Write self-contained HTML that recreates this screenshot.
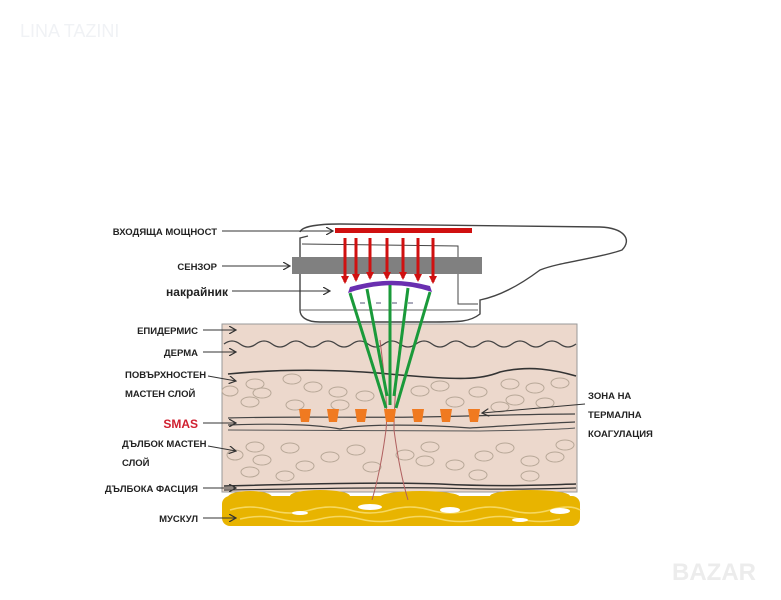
<!DOCTYPE html>
<html><head><meta charset="utf-8"><style>
html,body{margin:0;padding:0;background:#fff}
svg{display:block}
text{font-family:"Liberation Sans",sans-serif;font-weight:bold;fill:#222}
</style></head><body>
<svg width="781" height="600" viewBox="0 0 781 600" xmlns="http://www.w3.org/2000/svg">
<defs>
<marker id="a" markerUnits="userSpaceOnUse" markerWidth="8" markerHeight="8" refX="7" refY="4" orient="auto"><path d="M0,0 L7,4 L0,8" fill="none" stroke="#333" stroke-width="1.2"/></marker>
<marker id="r" markerUnits="userSpaceOnUse" markerWidth="8" markerHeight="8" refX="6" refY="4" orient="auto"><path d="M0,0 L8,4 L0,8z" fill="#d01010"/></marker>
</defs>
<text x="20" y="37" style="font-weight:normal;fill:#f0f2f5;font-size:18px">LINA TAZINI</text>
<text x="672" y="580" style="fill:#ececec;font-size:24px">BAZAR</text>

<!-- skin -->
<rect x="222" y="324" width="355" height="168" fill="#ecd8cc" stroke="#999" stroke-width="1"/>
<path d="M224,344 q8,-6 16,0 t16,0 t16,0 t16,0 t16,0 t16,0 t16,0 t16,0 t16,0 t16,0 t16,0 t16,0 t16,0 t16,0 t16,0 t16,0 t16,0 t16,0 t16,0 t16,0 t16,0 t16,0" fill="none" stroke="#444" stroke-width="1.3"/>
<path d="M228,374 C290,368 350,370 400,375 C460,380 480,380 500,372 C530,365 555,370 576,376" fill="none" stroke="#333" stroke-width="1.6"/>
<path d="M228,418 C300,416 360,418 420,417 C480,416 530,414 575,414" fill="none" stroke="#444" stroke-width="1.2"/>
<path d="M228,425 C280,423 320,425 340,429 C360,424 420,424 470,428 C520,425 550,423 575,422" fill="none" stroke="#444" stroke-width="1.2"/>
<path d="M228,430 C300,430 400,431 480,431 C530,430 555,430 575,428" fill="none" stroke="#555" stroke-width="1"/>
<path d="M224,486 C300,484 380,482 440,484 C500,487 540,485 576,484" fill="none" stroke="#333" stroke-width="1.5"/>
<path d="M224,490 C300,489 380,487 440,488 C500,490 540,489 576,488" fill="none" stroke="#333" stroke-width="1.2"/>
<g fill="none" stroke="#b8a898" stroke-width="1">
<ellipse cx="255" cy="384" rx="9" ry="5"/><ellipse cx="292" cy="379" rx="9" ry="5"/><ellipse cx="230" cy="391" rx="8" ry="5"/><ellipse cx="262" cy="393" rx="9" ry="5"/><ellipse cx="313" cy="387" rx="9" ry="5"/><ellipse cx="338" cy="392" rx="9" ry="5"/><ellipse cx="250" cy="402" rx="9" ry="5"/><ellipse cx="295" cy="405" rx="9" ry="5"/><ellipse cx="340" cy="405" rx="9" ry="5"/><ellipse cx="365" cy="396" rx="9" ry="5"/><ellipse cx="420" cy="391" rx="9" ry="5"/><ellipse cx="440" cy="386" rx="9" ry="5"/><ellipse cx="478" cy="392" rx="9" ry="5"/><ellipse cx="510" cy="384" rx="9" ry="5"/><ellipse cx="535" cy="388" rx="9" ry="5"/><ellipse cx="560" cy="383" rx="9" ry="5"/><ellipse cx="455" cy="402" rx="9" ry="5"/><ellipse cx="515" cy="400" rx="9" ry="5"/><ellipse cx="545" cy="403" rx="9" ry="5"/><ellipse cx="500" cy="407" rx="9" ry="5"/>
<ellipse cx="255" cy="447" rx="9" ry="5"/><ellipse cx="290" cy="448" rx="9" ry="5"/><ellipse cx="235" cy="455" rx="8" ry="5"/><ellipse cx="262" cy="460" rx="9" ry="5"/><ellipse cx="305" cy="466" rx="9" ry="5"/><ellipse cx="330" cy="457" rx="9" ry="5"/><ellipse cx="356" cy="450" rx="9" ry="5"/><ellipse cx="372" cy="467" rx="9" ry="5"/><ellipse cx="405" cy="455" rx="9" ry="5"/><ellipse cx="430" cy="447" rx="9" ry="5"/><ellipse cx="425" cy="461" rx="9" ry="5"/><ellipse cx="455" cy="465" rx="9" ry="5"/><ellipse cx="484" cy="456" rx="9" ry="5"/><ellipse cx="505" cy="448" rx="9" ry="5"/><ellipse cx="530" cy="461" rx="9" ry="5"/><ellipse cx="555" cy="457" rx="9" ry="5"/><ellipse cx="565" cy="445" rx="9" ry="5"/><ellipse cx="478" cy="475" rx="9" ry="5"/><ellipse cx="530" cy="476" rx="9" ry="5"/><ellipse cx="285" cy="476" rx="9" ry="5"/><ellipse cx="250" cy="472" rx="9" ry="5"/>
</g>
<!-- muscle -->
<g fill="#e8b400">
<rect x="222" y="496" width="358" height="30" rx="8"/>
<ellipse cx="250" cy="497" rx="22" ry="6"/><ellipse cx="320" cy="496" rx="30" ry="6"/><ellipse cx="420" cy="497" rx="40" ry="6"/><ellipse cx="530" cy="496" rx="40" ry="6"/>
</g>
<g fill="none" stroke="#f6d860" stroke-width="1.5">
<path d="M230,510 q20,-6 40,0 t40,0 t40,0 t40,0 t40,0 t40,0 t40,0 t40,0 t30,0"/>
<path d="M240,519 q20,-5 40,0 t40,0 t40,0 t40,0 t40,0 t40,0 t40,0 t40,0"/>
</g>
<g fill="#fff"><ellipse cx="370" cy="507" rx="12" ry="3"/><ellipse cx="450" cy="510" rx="10" ry="3"/><ellipse cx="300" cy="513" rx="8" ry="2"/><ellipse cx="560" cy="511" rx="10" ry="3"/><ellipse cx="520" cy="520" rx="8" ry="2"/></g>
<!-- red vessel -->
<path d="M380,340 C385,380 388,410 386,430 C382,460 378,480 372,500 M400,340 C396,380 394,410 394,430 C398,460 402,480 408,500" fill="none" stroke="#b06060" stroke-width="1"/>

<!-- handpiece -->
<path d="M300,232 C302,226 320,224 340,224 L600,227 C625,228 632,240 622,250 C600,258 560,262 540,270 C520,285 500,296 480,300 L480,314 C470,322 460,322 430,322 L320,322 C305,322 300,316 300,310 L300,238 L308,236" fill="#fff" stroke="#444" stroke-width="1.4"/>
<path d="M302,244 L458,246 L458,304 L478,304" fill="none" stroke="#444" stroke-width="1"/>
<line x1="300" y1="310" x2="478" y2="310" stroke="#666" stroke-width="1"/>
<rect x="335" y="228" width="137" height="5" fill="#d01010"/>
<rect x="292" y="257" width="190" height="17" fill="#808080"/>
<g stroke="#d01010" stroke-width="3" marker-end="url(#r)">
<line x1="345" y1="238" x2="345" y2="282"/><line x1="356" y1="238" x2="356" y2="280"/><line x1="370" y1="238" x2="370" y2="278"/><line x1="387" y1="238" x2="387" y2="278"/><line x1="403" y1="238" x2="403" y2="278"/><line x1="418" y1="238" x2="418" y2="280"/><line x1="433" y1="238" x2="433" y2="282"/>
</g>
<path d="M348,293 Q390,278 432,292 L430,286 Q390,275 350,287z" fill="#6a2fb0"/>
<g fill="#aab" ><rect x="360" y="302" width="5" height="2"/><rect x="376" y="302" width="5" height="2"/><rect x="392" y="302" width="5" height="2"/><rect x="408" y="302" width="5" height="2"/></g>
<g stroke="#1a9a3a" stroke-width="3" fill="none">
<line x1="350" y1="293" x2="386" y2="408"/><line x1="367" y1="289" x2="387" y2="396"/><line x1="390" y1="285" x2="390" y2="405"/><line x1="408" y1="288" x2="394" y2="396"/><line x1="430" y1="292" x2="396" y2="408"/>
</g>
<g fill="#f07a20">
<path d="M299,409 h12 l-2,13 h-8z"/><path d="M327,409 h12 l-2,13 h-8z"/><path d="M355,409 h12 l-2,13 h-8z"/><path d="M384,409 h12 l-2,13 h-8z"/><path d="M412,409 h12 l-2,13 h-8z"/><path d="M440,409 h12 l-2,13 h-8z"/><path d="M468,409 h12 l-2,13 h-8z"/>
</g>

<!-- labels -->
<g stroke="#333" stroke-width="1" marker-end="url(#a)">
<line x1="222" y1="231" x2="333" y2="231"/><line x1="222" y1="266" x2="290" y2="266"/><line x1="232" y1="291" x2="330" y2="291"/>
<line x1="203" y1="330" x2="236" y2="330"/><line x1="203" y1="352" x2="236" y2="352"/><line x1="208" y1="376" x2="236" y2="381"/><line x1="203" y1="423" x2="236" y2="423"/><line x1="208" y1="446" x2="236" y2="451"/><line x1="203" y1="488" x2="236" y2="488"/><line x1="203" y1="518" x2="236" y2="518"/>
<line x1="585" y1="404" x2="482" y2="413"/>
</g>
<g font-size="9.5">
<text x="217" y="235" text-anchor="end">ВХОДЯЩА МОЩНОСТ</text>
<text x="217" y="270" text-anchor="end">СЕНЗОР</text>
<text x="228" y="296" text-anchor="end" style="font-size:12px">накрайник</text>
<text x="198" y="334" text-anchor="end">ЕПИДЕРМИС</text>
<text x="198" y="356" text-anchor="end">ДЕРМА</text>
<text x="125" y="378">ПОВЪРХНОСТЕН</text>
<text x="125" y="397">МАСТЕН СЛОЙ</text>
<text x="198" y="428" text-anchor="end" style="fill:#d02030;font-size:12px">SMAS</text>
<text x="122" y="447">ДЪЛБОК МАСТЕН</text>
<text x="122" y="466">СЛОЙ</text>
<text x="198" y="492" text-anchor="end">ДЪЛБОКА ФАСЦИЯ</text>
<text x="198" y="522" text-anchor="end">МУСКУЛ</text>
<text x="588" y="399">ЗОНА НА</text>
<text x="588" y="418">ТЕРМАЛНА</text>
<text x="588" y="437">КОАГУЛАЦИЯ</text>
</g>
</svg>
</body></html>
